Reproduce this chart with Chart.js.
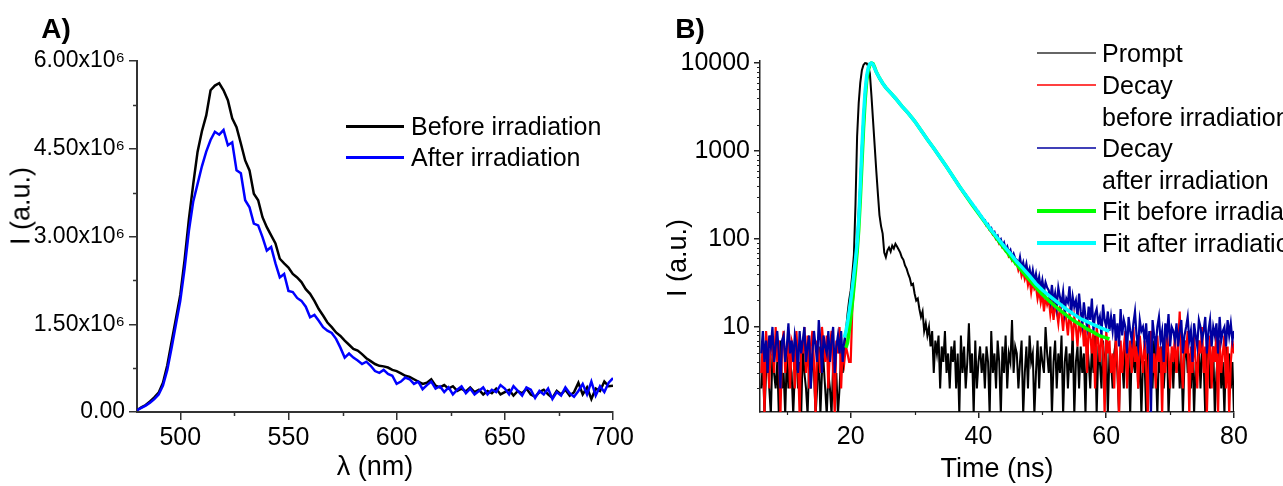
<!DOCTYPE html>
<html>
<head>
<meta charset="utf-8">
<title>Emission spectra and decay</title>
<script src="https://cdn.jsdelivr.net/npm/chart.js@4.4.1/dist/chart.umd.min.js"></script>
<style>
  body { margin: 0; background: #fff; }
  #page { position: relative; width: 1283px; height: 486px; overflow: hidden; font-family: 'Liberation Sans', Arial, sans-serif; color: #000; }
  .panel { position: absolute; top: 0; height: 486px; }
  .txt { position: absolute; white-space: nowrap; transform: translate(-50%, -50%); line-height: 1; }
  .rot { transform: translate(-50%, -50%) rotate(-90deg); }
  .leg { position: absolute; white-space: nowrap; font-size: 25px; line-height: 1; transform: translateY(-50%); }
  .sw { position: absolute; }
</style>
</head>
<body>
<div id="page">
  <div class="panel" style="left:0;width:640px"><canvas id="spectraChart"></canvas></div>
  <div class="panel" style="left:640px;width:643px"><canvas id="decayChart"></canvas></div>

  <div class="txt" style="left:56px;top:29px;font-size:28px;font-weight:bold">A)</div>
  <div class="txt rot" style="left:21px;top:206px;font-size:27px">I (a.u.)</div>
  <div class="txt" style="left:375px;top:466px;font-size:27px">λ (nm)</div>

  <div class="sw" style="left:346px;top:125px;width:58px;height:3px;background:#000"></div>
  <div class="leg" style="left:411px;top:126px">Before irradiation</div>
  <div class="sw" style="left:346px;top:156px;width:58px;height:3px;background:#0000ff"></div>
  <div class="leg" style="left:411px;top:157px">After irradiation</div>

  <div class="txt" style="left:690px;top:29px;font-size:28px;font-weight:bold">B)</div>
  <div class="txt rot" style="left:677px;top:258px;font-size:27px">I (a.u.)</div>
  <div class="txt" style="left:997px;top:468px;font-size:27px">Time (ns)</div>

  <div class="sw" style="left:1037px;top:52px;width:59px;height:2px;background:#666"></div>
  <div class="leg" style="left:1102px;top:53px">Prompt</div>
  <div class="sw" style="left:1037px;top:84px;width:59px;height:2px;background:#ff4040"></div>
  <div class="leg" style="left:1102px;top:85px">Decay</div>
  <div class="leg" style="left:1102px;top:117px">before irradiation</div>
  <div class="sw" style="left:1037px;top:147px;width:59px;height:2px;background:#4040b8"></div>
  <div class="leg" style="left:1102px;top:148px">Decay</div>
  <div class="leg" style="left:1102px;top:180px">after irradiation</div>
  <div class="sw" style="left:1037px;top:209px;width:59px;height:4px;background:#00ff00"></div>
  <div class="leg" style="left:1102px;top:211px">Fit before irradiation</div>
  <div class="sw" style="left:1037px;top:241px;width:59px;height:4px;background:#00ffff"></div>
  <div class="leg" style="left:1102px;top:243px">Fit after irradiation</div>
</div>

<script>
// ---- A) emission spectra, intensity in units of 10^6 ----
const wlStart = 480, wlStep = 2;
const beforeIrr = [
  0.03,0.08,0.12,0.18,0.25,0.33,0.50,0.80,1.20,1.60,
  2.00,2.60,3.30,3.90,4.45,4.80,5.07,5.50,5.58,5.62,
  5.50,5.33,5.02,4.87,4.59,4.30,4.13,3.73,3.62,3.33,
  3.16,3.02,2.88,2.62,2.54,2.47,2.36,2.30,2.22,2.10,
  2.02,1.90,1.76,1.65,1.53,1.45,1.36,1.30,1.22,1.15,
  1.08,1.05,0.99,0.92,0.87,0.82,0.79,0.78,0.76,0.72,
  0.70,0.66,0.62,0.60,0.56,0.52,0.48,0.50,0.56,0.45,
  0.42,0.46,0.40,0.44,0.36,0.40,0.35,0.42,0.34,0.38,
  0.30,0.36,0.32,0.40,0.30,0.34,0.38,0.28,0.36,0.32,
  0.40,0.30,0.26,0.34,0.38,0.30,0.24,0.36,0.30,0.38,
  0.28,0.34,0.50,0.30,0.42,0.22,0.40,0.36,0.52,0.44,
  0.45
];
const afterIrr = [
  0.03,0.07,0.11,0.16,0.22,0.30,0.45,0.72,1.10,1.50,
  1.90,2.45,3.10,3.60,3.90,4.20,4.45,4.65,4.79,4.74,
  4.82,4.56,4.61,4.13,4.08,3.62,3.50,3.22,3.19,2.99,
  2.76,2.82,2.54,2.30,2.36,2.07,2.05,1.95,1.90,1.80,
  1.62,1.66,1.56,1.45,1.39,1.35,1.25,1.10,0.93,1.00,
  0.93,0.88,0.82,0.86,0.79,0.70,0.67,0.72,0.65,0.62,
  0.48,0.52,0.59,0.56,0.48,0.52,0.39,0.46,0.52,0.40,
  0.44,0.34,0.42,0.30,0.38,0.44,0.32,0.40,0.30,0.36,
  0.42,0.30,0.38,0.34,0.46,0.40,0.30,0.44,0.36,0.28,
  0.42,0.38,0.24,0.36,0.30,0.40,0.22,0.34,0.28,0.42,
  0.32,0.26,0.36,0.48,0.30,0.52,0.28,0.44,0.34,0.50,
  0.58
];
const wavelengths = beforeIrr.map((_, i) => wlStart + i * wlStep);
const xTicksA = [500, 550, 600, 650, 700];
const xMinorA = [525, 575, 625, 675];
const yTicksA = [0, 1.5, 3, 4.5, 6];
const yMinorA = [0.75, 2.25, 3.75, 5.25];

// ---- B) decay curves, counts per 0.25 ns channel from 6 ns ----
const tStart = 6, tStep = 0.25;
const promptCounts = [
  2,4,1,3,6,2,1,5,3,2,4,1,7,2,3,1,5,2,4,3,
  1,3,5,2,4,1,6,3,2,1,4,2,5,3,1,2,6,1,3,4,
  2,1,3,2,1,4,2,3,1,2,5,3,6,9,14,20,26,40,66,250,
  1450,3500,6000,8300,9500,10000,9900,9200,7600,4200,2200,1150,600,330,187,140,115,70,62,74,
  80,72,84,78,88,82,76,70,62,58,50,46,40,36,30,31,24,20,21,16,
  13,15,9,11,8,10,6,9,3,7,5,8,2,6,4,9,3,5,2,6,
  4,7,2,5,1,8,3,6,2,4,11,3,5,1,7,2,4,6,3,5,
  2,6,4,1,9,3,5,2,7,4,1,6,3,8,2,5,4,12,3,6,
  5,2,4,7,1,3,6,2,8,4,5,1,3,7,2,6,4,3,10,5,
  3,6,1,4,7,2,5,3,8,1,4,6,2,5,3,9,1,4,6,2,
  6,3,5,1,7,4,2,6,3,8,1,5,4,2,7,3,6,1,5,4,
  2,5,7,3,1,6,4,2,8,3,5,1,6,4,3,7,2,5,1,4,
  4,1,6,3,5,2,7,4,1,5,3,6,2,4,8,1,3,5,2,6,
  3,6,2,5,1,4,7,3,5,2,6,1,4,3,7,2,5,4,1,6,
  5,2,4,6,1,3,5,7,2,4,1,6,3,5,2,4,1
];
const decayBefore = [
  3,7,1,9,5,2,8,6,3,10,4,7,1,6,9,3,5,8,2,7,
  6,2,9,4,1,7,5,10,3,8,2,6,9,4,1,7,5,3,10,6,
  4,8,2,6,9,3,1,7,5,10,2,6,4,6,5,4,4,16,27,45,
  72,140,290,800,1800,3900,6300,8400,9500,10000,9700,8800,7900,7250,6700,6250,5880,5500,5230,4920,
  4760,4570,4330,4170,3960,3790,3580,3430,3220,3110,2930,2830,2670,2570,2410,2310,2170,2080,1930,1840,
  1705,1625,1515,1442,1338,1277,1190,1141,1060,1018,940,900,831,797,737,706,652,627,577,553,
  505,488,448,433,391,379,347,338,309,301,276,268,245,239,218,213,195,190,172,169,
  154,141,144,126,123,112,115,99,97,88,92,79,78,72,74,63,65,57,60,52,
  53,44,49,38,43,35,40,30,36,25,33,27,29,21,26,19,24,15,22,18,
  21,14,19,12,18,15,11,17,14,9,16,12,8,14,11,7,13,10,6,12,
  9,12,6,10,3,11,8,5,9,2,10,7,4,8,6,1,9,5,7,3,
  5,2,8,4,1,7,3,6,9,2,5,7,3,10,4,6,2,8,5,3,
  7,4,1,6,9,3,5,2,8,4,6,1,7,3,9,5,2,6,4,8,
  3,6,15,4,2,7,5,9,1,6,3,8,4,2,7,5,10,3,6,1,
  5,8,2,6,4,9,1,7,3,5,8,2,6,1,4,7,5
];
const decayAfter = [
  5,9,4,7,3,8,6,10,4,6,9,5,2,7,8,4,6,11,5,7,
  4,8,6,3,9,5,7,10,4,6,8,2,5,9,6,4,12,7,3,8,
  6,5,9,4,7,10,3,6,8,5,9,4,7,9,11,15,20,28,40,60,
  92,190,420,1100,2450,4600,7000,8900,9800,10000,9500,8700,7800,7200,6650,6250,5900,5550,5250,4950,
  4810,4540,4370,4140,3990,3770,3620,3400,3250,3090,2960,2810,2700,2550,2430,2290,2200,2060,1950,1820,
  1725,1610,1530,1428,1355,1262,1208,1128,1080,1002,956,889,847,786,751,696,667,615,590,543,
  520,478,462,425,405,370,358,331,322,293,287,262,256,233,229,207,204,184,181,164,
  164,146,148,129,133,116,120,104,109,93,99,84,91,76,82,70,75,62,68,60,
  58,50,62,47,54,43,52,40,46,35,44,33,40,30,37,27,34,25,32,28,
  26,20,30,19,24,17,28,22,18,25,15,21,19,29,14,22,17,20,13,24,
  15,11,19,13,10,17,12,21,9,14,16,11,13,8,18,12,10,15,9,13,
  9,14,7,11,6,16,8,12,10,5,13,9,7,11,15,8,6,12,9,10,
  7,11,5,9,1,12,8,6,10,13,7,9,4,11,8,14,6,10,9,7,
  11,6,9,12,5,8,10,13,7,9,4,11,8,6,12,10,7,9,13,5,
  9,12,6,10,8,11,5,13,7,9,10,6,12,8,11,7,9
];
const decayTimes = promptCounts.map((_, i) => tStart + i * tStep);

const fitTimes = [
  19.0,19.25,19.5,19.75,20.0,20.25,20.5,20.75,21.0,21.25,21.5,21.75,22.0,22.25,22.5,22.75,23.0,23.25,23.5,23.75,24.0,
  24.5,25.0,25.5,26.0,26.5,27.0,27.5,28.0,28.5,29.0,29.5,30.0,
  31,32,33,34,35,36,37,38,39,40,41,42,43,44,45,46,47,48,49,50,51,52,53,54,55,56,57,58,59,60,
  60.5
];
const fitBefore = [
  null,5.8,6.6,8.9,12.6,18.6,28,44,71,126,280,710,1780,3720,6300,8300,9550,10000,9800,8900,7943,
  6760,5890,5250,4790,4365,3980,3590,3236,2950,2692,2427,2188,
  1718,1349,1072,841,661,513,398,313,245,195,155,123,98,78.5,63,51,41.7,34.3,28.2,23.4,20,17.2,15,13.2,11.7,10.6,9.5,8.7,7.9,7.5,
  7.3
];
const fitAfter = [
  7.6,8.9,11.2,14.8,20,28,40,58,89,166,400,1050,2500,4700,7100,8900,9800,10000,9600,8700,7900,
  6760,5890,5250,4790,4365,3980,3590,3236,2950,2692,2427,2188,
  1718,1349,1072,841,661,513,398,316,251,200,158,126,102,83,68,55,46,38,31,26.3,22.9,20,17.6,15.5,13.8,12.4,11.5,10.6,9.9,9.2,
  9.0
];
const xTicksB = [20, 40, 60, 80];
const xMinorB = [10, 30, 50, 70];
const yTicksB = [10, 100, 1000, 10000];
const yMinorB = [2,3,4,5,6,7,8,9,20,30,40,50,60,70,80,90,200,300,400,500,600,700,800,900,2000,3000,4000,5000,6000,7000,8000,9000];

Chart.defaults.font.family = "'Liberation Sans', Arial, sans-serif";
Chart.defaults.color = '#000';
Chart.defaults.animation = false;

function toPoints(xs, ys) {
    return xs.map((x, i) => ({ x: x, y: ys[i] }));
}

// small outward ticks between the labelled ones
const minorTicks = {
    id: 'minorTicks',
    afterDraw(chart, args, opts) {
        const { ctx, chartArea, scales } = chart;
        ctx.save();
        ctx.strokeStyle = opts.color;
        ctx.lineWidth = opts.width;
        ctx.beginPath();
        opts.x.forEach(v => {
            const px = Math.round(scales.x.getPixelForValue(v)) + 0.5;
            ctx.moveTo(px, chartArea.bottom);
            ctx.lineTo(px, chartArea.bottom + opts.len);
        });
        opts.y.forEach(v => {
            const py = Math.round(scales.y.getPixelForValue(v)) + 0.5;
            ctx.moveTo(chartArea.left - opts.len, py);
            ctx.lineTo(chartArea.left, py);
        });
        ctx.stroke();
        ctx.restore();
    }
};

function axis(opts) {
    return Object.assign({
        grid: { drawOnChartArea: false, drawTicks: true, tickLength: opts.tickLength, color: opts.color, lineWidth: 1.5 },
        border: { display: true, color: opts.color, width: opts.borderWidth },
        ticks: { font: { size: opts.fontSize }, padding: opts.padding, autoSkip: false, maxRotation: 0, callback: opts.label },
        afterBuildTicks: scale => { scale.ticks = opts.values.map(v => ({ value: v })); }
    }, opts.extra);
}

new Chart(document.getElementById('spectraChart'), {
    type: 'line',
    data: {
        datasets: [
            { label: 'After irradiation', data: toPoints(wavelengths, afterIrr), borderColor: '#0000ff', borderWidth: 2.5, order: 0 },
            { label: 'Before irradiation', data: toPoints(wavelengths, beforeIrr), borderColor: '#000000', borderWidth: 2.5, order: 1 }
        ]
    },
    options: {
        responsive: true,
        maintainAspectRatio: false,
        devicePixelRatio: 1,
        parsing: false,
        elements: { point: { radius: 0 }, line: { tension: 0 } },
        layout: { padding: { left: 0, top: 61, right: 27, bottom: 0 } },
        plugins: {
            legend: { display: false },
            tooltip: { enabled: false },
            minorTicks: { x: xMinorA, y: yMinorA, len: 4, color: '#333', width: 1.5 }
        },
        scales: {
            x: axis({ tickLength: 8, color: '#333', borderWidth: 2, fontSize: 25, padding: 3, values: xTicksA,
                label: v => String(v),
                extra: { type: 'linear', min: 480, max: 700, afterFit: s => { s.height = 74; } } }),
            y: axis({ tickLength: 8, color: '#333', borderWidth: 2, fontSize: 23, padding: 4, values: yTicksA,
                label: v => v === 0 ? '0.00' : v.toFixed(2) + 'x10\u2076',
                extra: { type: 'linear', min: 0, max: 6, afterFit: s => { s.width = 137; } } })
        }
    },
    plugins: [minorTicks]
});

new Chart(document.getElementById('decayChart'), {
    type: 'line',
    data: {
        datasets: [
            { label: 'Fit after irradiation', data: toPoints(fitTimes, fitAfter), borderColor: '#00ffff', borderWidth: 3.5, order: 0 },
            { label: 'Fit before irradiation', data: toPoints(fitTimes, fitBefore), borderColor: '#00ff00', borderWidth: 3.5, order: 1 },
            { label: 'Decay after irradiation', data: toPoints(decayTimes, decayAfter), borderColor: '#0000a0', borderWidth: 2.2, order: 2 },
            { label: 'Decay before irradiation', data: toPoints(decayTimes, decayBefore), borderColor: '#ff0000', borderWidth: 2.2, order: 3 },
            { label: 'Prompt', data: toPoints(decayTimes, promptCounts), borderColor: '#000000', borderWidth: 2, order: 4 }
        ]
    },
    options: {
        responsive: true,
        maintainAspectRatio: false,
        devicePixelRatio: 1,
        parsing: false,
        elements: { point: { radius: 0 }, line: { tension: 0 } },
        layout: { padding: { left: 0, top: 61, right: 49, bottom: 0 } },
        plugins: {
            legend: { display: false },
            tooltip: { enabled: false },
            minorTicks: { x: xMinorB, y: yMinorB, len: 3, color: '#222', width: 1.2 }
        },
        scales: {
            x: axis({ tickLength: 6, color: '#222', borderWidth: 1.5, fontSize: 25, padding: 4, values: xTicksB,
                label: v => String(v),
                extra: { type: 'linear', min: 5.8, max: 80, afterFit: s => { s.height = 74; } } }),
            y: axis({ tickLength: 6, color: '#222', borderWidth: 1.5, fontSize: 25, padding: 4, values: yTicksB,
                label: v => String(v),
                extra: { type: 'logarithmic', min: 1.08, max: 10540, afterFit: s => { s.width = 120; } } })
        }
    },
    plugins: [minorTicks]
});
</script>
</body>
</html>
